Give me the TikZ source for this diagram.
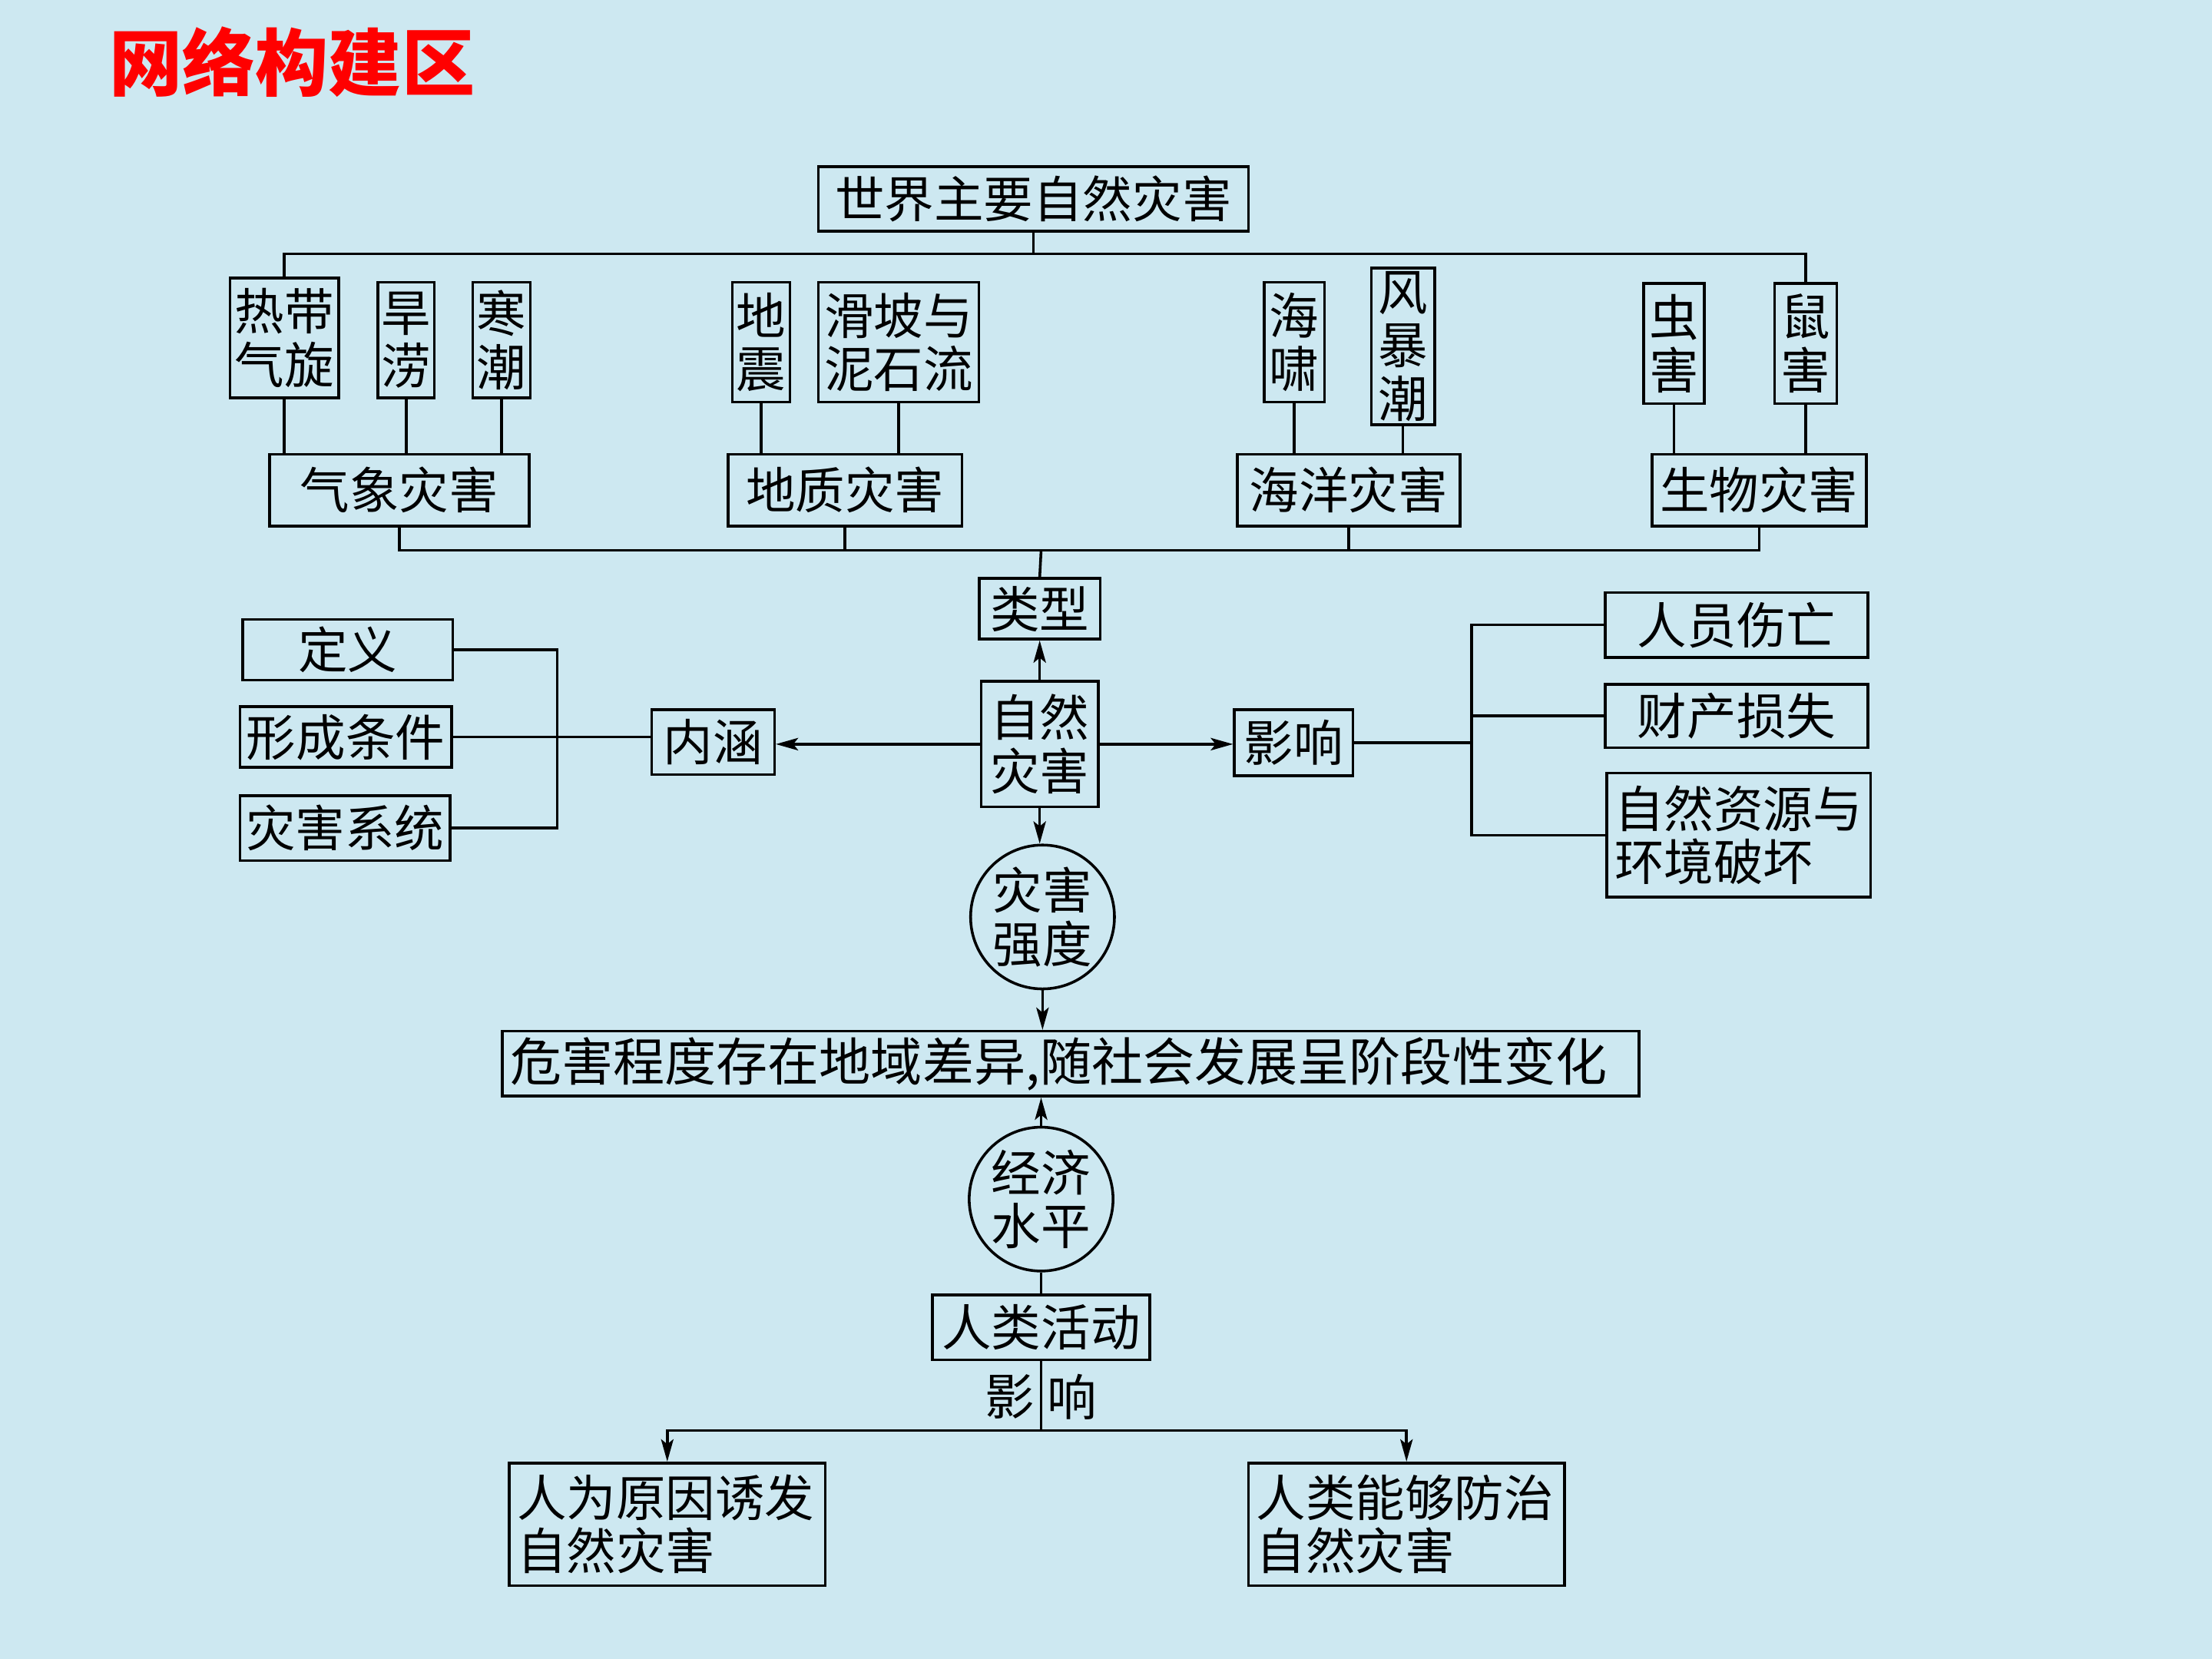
\documentclass[tikz,border=0pt]{standalone}
\usepackage{fontspec}
\setmainfont{Noto Sans CJK SC}
\usetikzlibrary{arrows.meta}
\definecolor{bgblue}{RGB}{205,232,241}
\definecolor{titlered}{RGB}{255,0,0}

\begin{document}
\begin{tikzpicture}[x=0.02cm,y=-0.02cm]
    \tikzstyle{gbox}=[draw,line width=1.1pt,inner sep=0pt,align=center,font=\fontsize{20}{21.5}\selectfont]
    \tikzstyle{lbox}=[gbox,align=left,inner xsep=0.11cm]
    \tikzstyle{ring}=[gbox,circle,minimum size=2.04cm]
    \tikzstyle{link}=[line width=1.1pt]
    \tikzstyle{arr}=[link,-{Stealth[length=9pt,width=5pt,inset=2pt]}]
    \useasboundingbox (0,0) rectangle (1568,1176);
    \fill[bgblue] (0,0) rectangle (1568,1176);

    \node[text=titlered,font=\fontsize{29.5}{32}\selectfont\bfseries] (title) at (207,44) {网络构建区};

    \node[gbox,minimum width=6.1cm,minimum height=0.92cm] (world) at (732.5,141) {世界主要自然灾害};
    \node[gbox,minimum width=1.54cm,minimum height=1.7cm] (redai) at (201.5,239.5) {热带\\气旋};
    \node[gbox,minimum width=0.8cm,minimum height=1.64cm] (hanlao) at (288,241) {旱\\涝};
    \node[gbox,minimum width=0.82cm,minimum height=1.64cm] (hanchao) at (355.5,241) {寒\\潮};
    \node[gbox,minimum width=0.82cm,minimum height=1.7cm] (dizhen) at (539.5,242.5) {地\\震};
    \node[gbox,minimum width=2.28cm,minimum height=1.7cm] (huapo) at (637,242.5) {滑坡与\\泥石流};
    \node[gbox,minimum width=0.86cm,minimum height=1.7cm] (haixiao) at (917.5,242.5) {海\\啸};
    \node[gbox,minimum width=0.9cm,minimum height=2.22cm] (fengbao) at (994.5,245.5) {风\\暴\\潮};
    \node[gbox,minimum width=0.86cm,minimum height=1.7cm] (chong) at (1186.5,243.5) {虫\\害};
    \node[gbox,minimum width=0.88cm,minimum height=1.7cm] (shu) at (1280,243.5) {鼠\\害};

    \node[gbox,minimum width=3.68cm,minimum height=1.02cm] (qixiang) at (283,347.5) {气象灾害};
    \node[gbox,minimum width=3.32cm,minimum height=1.02cm] (dizhi) at (599,347.5) {地质灾害};
    \node[gbox,minimum width=3.16cm,minimum height=1.02cm] (haiyang) at (956,347.5) {海洋灾害};
    \node[gbox,minimum width=3.04cm,minimum height=1.02cm] (shengwu) at (1247,347.5) {生物灾害};

    \node[gbox,minimum width=1.72cm,minimum height=0.86cm] (leixing) at (737,431.5) {类型};
    \node[gbox,minimum width=1.66cm,minimum height=1.78cm] (ziran) at (737,527.5) {自然\\灾害};
    \node[gbox,minimum width=1.74cm,minimum height=0.92cm] (neihan) at (505.5,526) {内涵};
    \node[gbox,minimum width=1.68cm,minimum height=0.94cm] (yingxiang) at (917,526.5) {影响};

    \node[gbox,minimum width=2.98cm,minimum height=0.86cm] (dingyi) at (246.5,460.5) {定义};
    \node[gbox,minimum width=3.0cm,minimum height=0.86cm] (tiaojian) at (245,522.5) {形成条件};
    \node[gbox,minimum width=2.98cm,minimum height=0.92cm] (xitong) at (244.5,587) {灾害系统};

    \node[gbox,minimum width=3.72cm,minimum height=0.92cm] (shangwang) at (1231,443) {人员伤亡};
    \node[gbox,minimum width=3.72cm,minimum height=0.9cm] (caichan) at (1231,507.5) {财产损失};
    \node[lbox,text width=3.52cm,minimum height=1.76cm] (huanjing) at (1232.5,592) {自然资源与\\环境破坏};

    \node[ring] (qiangdu) at (739,650) {灾害\\强度};
    \node[lbox,text width=15.9cm,minimum height=0.92cm,font=\fontsize{20.8}{22}\selectfont] (weihai) at (759,754) {危害程度存在地域差异,随社会发展呈阶段性变化};
    \node[ring] (jingji) at (738,850) {经济\\水平};
    \node[gbox,minimum width=3.08cm,minimum height=0.92cm] (renlei) at (738,941) {人类活动};
    \node[font=\fontsize{20}{21.5}\selectfont] (ying) at (716,990) {影};
    \node[font=\fontsize{20}{21.5}\selectfont] (xiang) at (760,990) {响};
    \node[lbox,text width=4.26cm,minimum height=1.74cm] (youfa) at (473,1080.5) {人为原因诱发\\自然灾害};
    \node[lbox,text width=4.26cm,minimum height=1.74cm] (fangzhi) at (997,1080.5) {人类能够防治\\自然灾害};

    \coordinate (bus1) at (738,180);
    \coordinate (bus2) at (738,390);
    \coordinate (lbar) at (395,522.5);
    \coordinate (rbar) at (1043,526.5);
    \coordinate (bus3) at (738,1014);

    \draw[link] (world.south) -- (world.south |- bus1);
    \draw[link] (redai.north) |- (bus1) -| (shu.north);
    \foreach \a/\b in {redai/qixiang,hanlao/qixiang,hanchao/qixiang,dizhen/dizhi,huapo/dizhi,haixiao/haiyang,fengbao/haiyang,chong/shengwu,shu/shengwu}
        \draw[link] (\a.south) -- (\a.south |- \b.north);
    \draw[link] (qixiang.south) |- (bus2) -| (shengwu.south);
    \draw[link] (dizhi.south) -- (dizhi.south |- bus2);
    \draw[link] (haiyang.south) -- (haiyang.south |- bus2);
    \draw[link] (bus2) -- (leixing.north);

    \draw[arr] (ziran.north) -- (leixing.south);
    \draw[arr] (ziran.west) -- (ziran.west -| neihan.east);
    \draw[arr] (ziran.east) -- (ziran.east -| yingxiang.west);
    \draw[arr] (ziran.south) -- (ziran.south |- qiangdu.north);

    \draw[link] (dingyi.east) -| (lbar);
    \draw[link] (xitong.east) -| (lbar);
    \draw[link] (tiaojian.east) -- (tiaojian.east -| neihan.west);

    \draw[link] (yingxiang.east) -- (rbar);
    \draw[link] (shangwang.west) -| (rbar);
    \draw[link] (huanjing.west) -| (rbar);
    \draw[link] (caichan.west) -- (caichan.west -| rbar);

    \draw[arr] (qiangdu.south) -- (qiangdu.south |- weihai.north);
    \draw[arr] (jingji.north) -- (jingji.north |- weihai.south);
    \draw[link] (jingji.south) -- (renlei.north);
    \draw[link] (renlei.south) -- (bus3);
    \draw[arr] (bus3) -| (youfa.north);
    \draw[arr] (bus3) -| (fangzhi.north);
\end{tikzpicture}
\end{document}
